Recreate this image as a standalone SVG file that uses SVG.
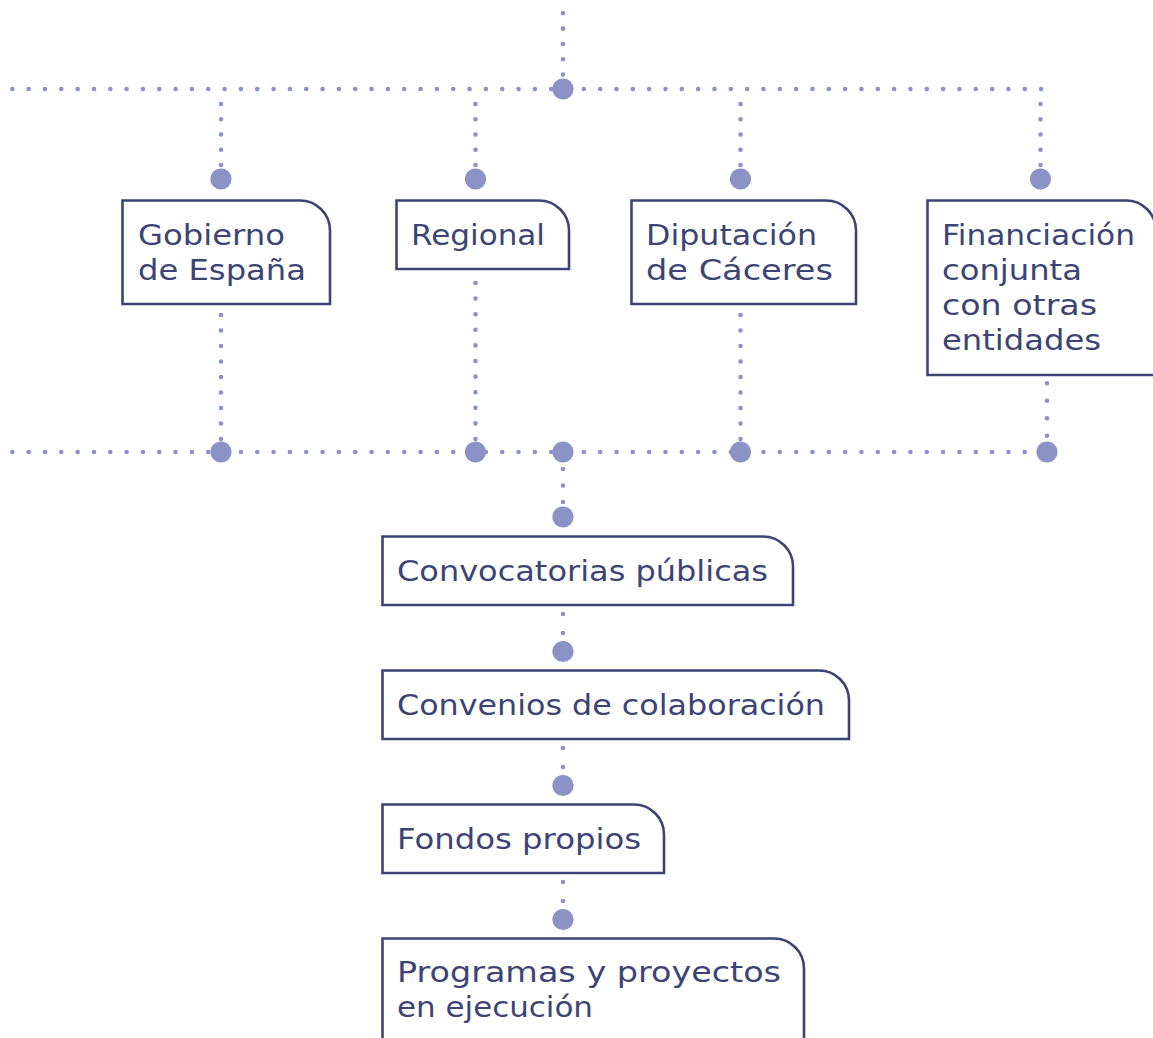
<svg xmlns="http://www.w3.org/2000/svg" width="1153" height="1038" viewBox="0 0 1153 1038">
<defs>
<style>
.box{fill:#ffffff;stroke:#3d4474;stroke-width:2.6}
.lbl{font-family:"DejaVu Sans",sans-serif;font-size:27.5px;fill:#3d4474}
.dl{fill:none;stroke:#8a92c6;stroke-width:4.6;stroke-linecap:round}
.big{fill:#8a92c6}
</style>
</defs>
<rect width="1153" height="1038" fill="#ffffff"/>
<g id="connectors">
  <path class="dl" d="M563 13.3 V75" stroke-dasharray="0 15.33"/>
  <path class="dl" d="M12.3 89 H1041.6" stroke-dasharray="0 16.33"/>
  <path class="dl" d="M221 104 V165.5" stroke-dasharray="0 15.25"/>
  <path class="dl" d="M475.5 104 V165.5" stroke-dasharray="0 15.25"/>
  <path class="dl" d="M740.5 104 V165.5" stroke-dasharray="0 15.25"/>
  <path class="dl" d="M1040.5 104 V165.5" stroke-dasharray="0 15.25"/>
  <circle class="big" cx="563" cy="89" r="10.6"/>
  <circle class="big" cx="221" cy="179" r="10.6"/>
  <circle class="big" cx="475.5" cy="179" r="10.6"/>
  <circle class="big" cx="740.5" cy="179" r="10.6"/>
  <circle class="big" cx="1040.5" cy="179" r="10.6"/>
  <path class="dl" d="M221 315 V439.5" stroke-dasharray="0 15.5"/>
  <path class="dl" d="M475.5 283 V439.5" stroke-dasharray="0 15.6"/>
  <path class="dl" d="M740.5 315 V439.5" stroke-dasharray="0 15.5"/>
  <path class="dl" d="M1047 383.3 V436.2" stroke-dasharray="0 17.46"/>
  <path class="dl" d="M12.3 452 H1041.6" stroke-dasharray="0 16.33"/>
  <circle class="big" cx="221" cy="452" r="10.6"/>
  <circle class="big" cx="475.5" cy="452" r="10.6"/>
  <circle class="big" cx="563" cy="452" r="10.6"/>
  <circle class="big" cx="740.5" cy="452" r="10.6"/>
  <circle class="big" cx="1047" cy="452" r="10.6"/>
  <path class="dl" d="M563 469 V502.5" stroke-dasharray="0 16.5"/>
  <circle class="big" cx="563" cy="517" r="10.6"/>
  <path class="dl" d="M563 614 V633.5" stroke-dasharray="0 19"/>
  <circle class="big" cx="563" cy="651.5" r="10.6"/>
  <path class="dl" d="M563 748 V767.5" stroke-dasharray="0 19"/>
  <circle class="big" cx="563" cy="785.5" r="10.6"/>
  <path class="dl" d="M563 882 V901.5" stroke-dasharray="0 19"/>
  <circle class="big" cx="563" cy="919.5" r="10.6"/>
</g>
<g id="gobierno">
  <path class="box" d="M122.5 304 V200.5 H300 A30 30 0 0 1 330 230.5 V304 Z"/>
  <text class="lbl" x="138" y="245" textLength="147" lengthAdjust="spacingAndGlyphs">Gobierno</text>
  <text class="lbl" x="138" y="280" textLength="168" lengthAdjust="spacingAndGlyphs">de España</text>
</g>
<g id="regional">
  <path class="box" d="M396.5 269 V200.5 H539 A30 30 0 0 1 569 230.5 V269 Z"/>
  <text class="lbl" x="411" y="245" textLength="134" lengthAdjust="spacingAndGlyphs">Regional</text>
</g>
<g id="diputacion">
  <path class="box" d="M631.5 304 V200.5 H826 A30 30 0 0 1 856 230.5 V304 Z"/>
  <text class="lbl" x="646" y="245" textLength="171" lengthAdjust="spacingAndGlyphs">Diputación</text>
  <text class="lbl" x="646" y="280" textLength="187" lengthAdjust="spacingAndGlyphs">de Cáceres</text>
</g>
<g id="financiacion">
  <path class="box" d="M927.5 375 V200.5 H1126 A30 30 0 0 1 1156 230.5 V375 Z"/>
  <text class="lbl" x="942" y="245" textLength="193" lengthAdjust="spacingAndGlyphs">Financiación</text>
  <text class="lbl" x="942" y="280" textLength="140" lengthAdjust="spacingAndGlyphs">conjunta</text>
  <text class="lbl" x="942" y="315" textLength="155" lengthAdjust="spacingAndGlyphs">con otras</text>
  <text class="lbl" x="942" y="350" textLength="159" lengthAdjust="spacingAndGlyphs">entidades</text>
</g>
<g id="convocatorias">
  <path class="box" d="M382.5 605 V536.5 H763 A30 30 0 0 1 793 566.5 V605 Z"/>
  <text class="lbl" x="397" y="581" textLength="371" lengthAdjust="spacingAndGlyphs">Convocatorias públicas</text>
</g>
<g id="convenios">
  <path class="box" d="M382.5 739 V670.5 H819 A30 30 0 0 1 849 700.5 V739 Z"/>
  <text class="lbl" x="397" y="715" textLength="428" lengthAdjust="spacingAndGlyphs">Convenios de colaboración</text>
</g>
<g id="fondos">
  <path class="box" d="M382.5 873 V804.5 H634 A30 30 0 0 1 664 834.5 V873 Z"/>
  <text class="lbl" x="397" y="849" textLength="244" lengthAdjust="spacingAndGlyphs">Fondos propios</text>
</g>
<g id="programas">
  <path class="box" d="M382.5 1045 V938.5 H774 A30 30 0 0 1 804 968.5 V1045"/>
  <text class="lbl" x="397" y="982" textLength="384" lengthAdjust="spacingAndGlyphs">Programas y proyectos</text>
  <text class="lbl" x="397" y="1017" textLength="196" lengthAdjust="spacingAndGlyphs">en ejecución</text>
</g>
</svg>
